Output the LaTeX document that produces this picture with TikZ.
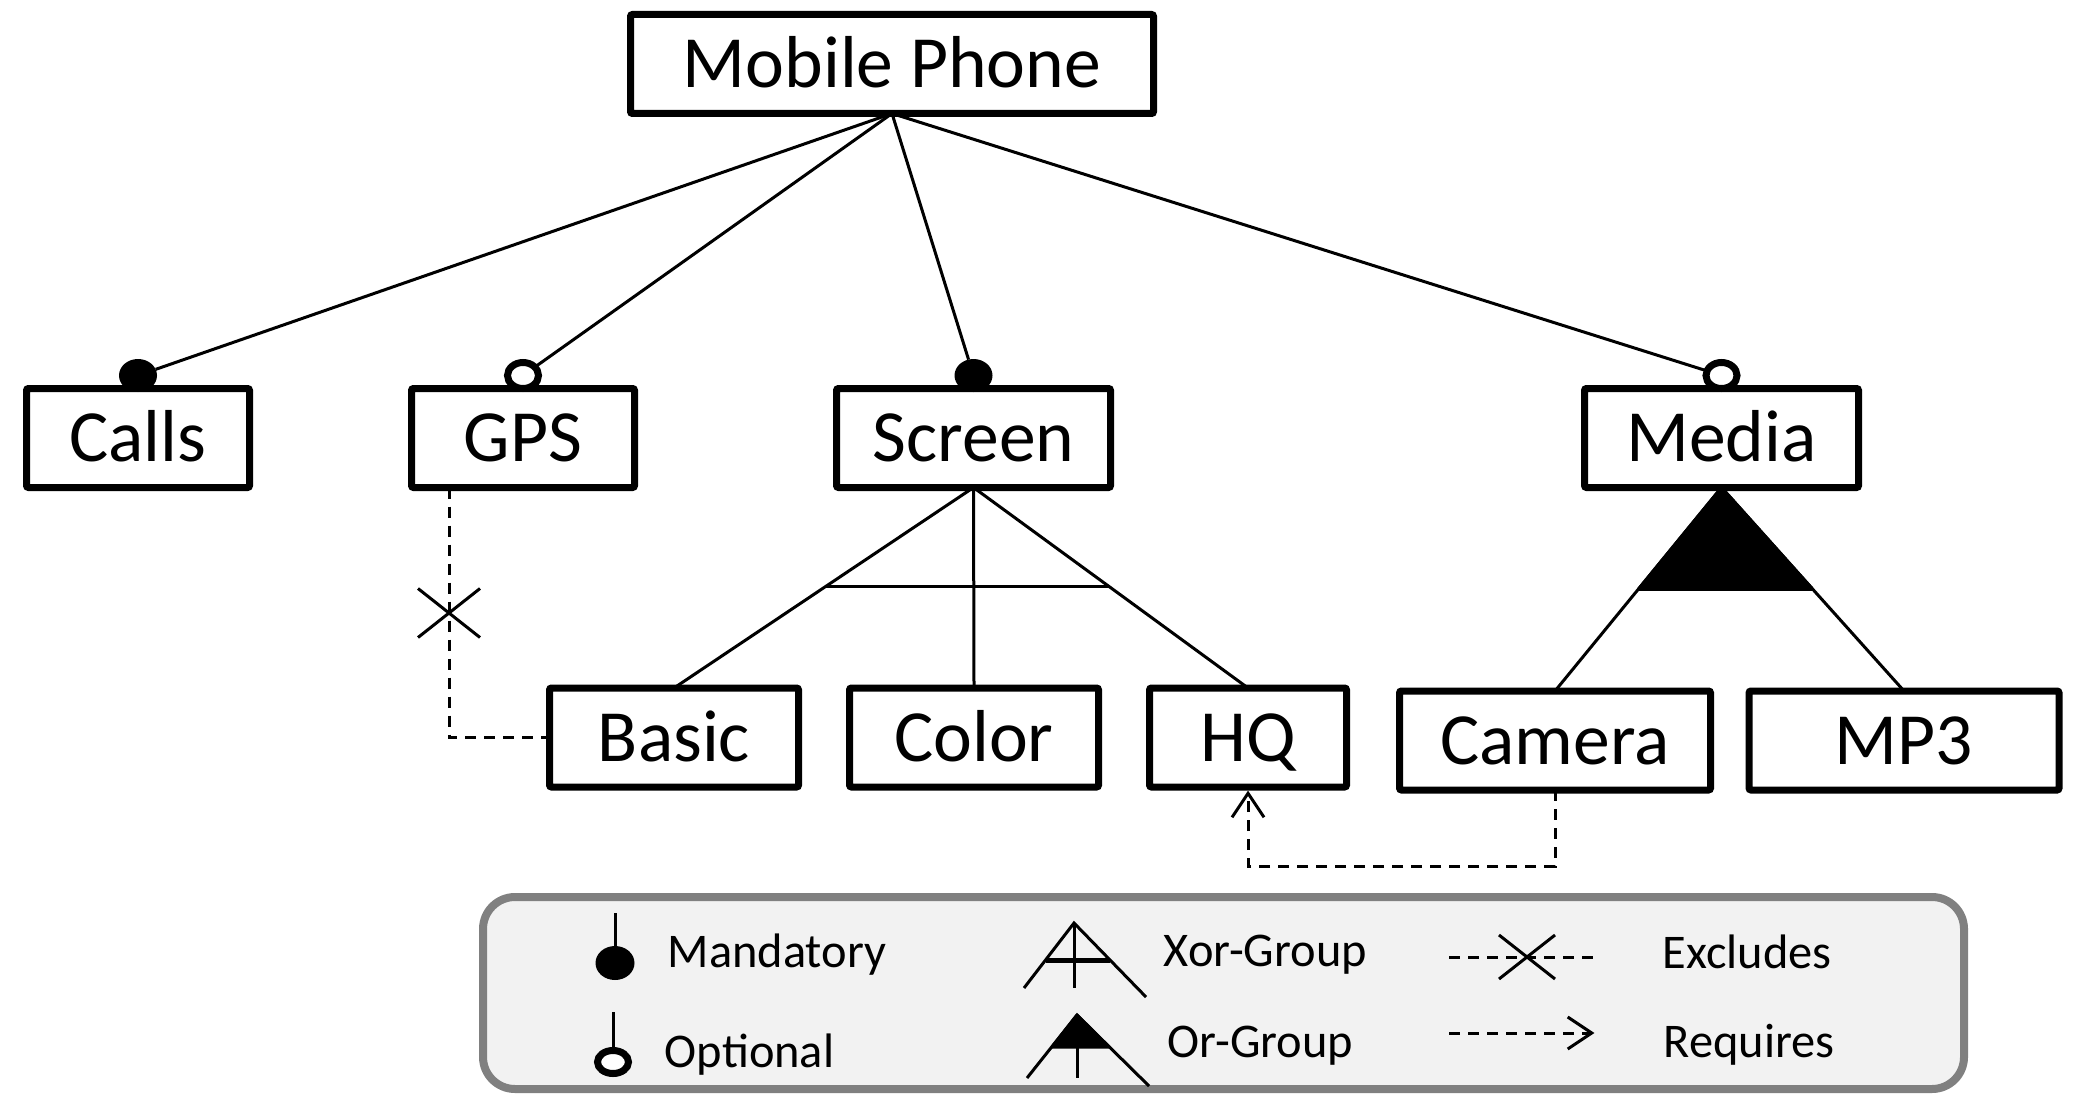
\documentclass[tikz,border=0pt]{standalone}
\usepackage{fontspec}
\setmainfont{Carlito}
\usetikzlibrary{shapes.geometric,shapes.misc,arrows.meta,calc}
\definecolor{legfill}{HTML}{F2F2F2}
\definecolor{legline}{HTML}{808080}
\begin{document}
\begin{tikzpicture}[x=0.25pt,y=-0.25pt,
  feat/.style={draw, line width=1.75pt, rounded corners=0.5pt, inner sep=0pt, outer sep=0pt, minimum height=24.75pt, text height=11.8pt, text depth=0pt, font=\fontsize{18.4}{22}\selectfont},
  mand/.style={ellipse, fill, inner sep=0pt, outer sep=0pt, minimum width=9.5pt, minimum height=8.25pt},
  opt/.style={ellipse, draw, fill=white, line width=1.75pt, inner sep=0pt, outer sep=0pt, minimum width=7.75pt, minimum height=6.5pt},
  edge/.style={line width=0.75pt},
  dep/.style={line width=0.75pt, dash pattern=on 2.75pt off 2pt},
  req/.style={dep, shorten >=0.9pt, -{Straight Barb[length=6pt,width=8pt,line width=0.75pt]}},
  xmark/.style={cross out, draw, line width=0.75pt, inner sep=0pt, outer sep=0pt},
  legtext/.style={anchor=base west, inner sep=0pt, font=\fontsize{12.1}{14}\selectfont}]
\useasboundingbox (0,0) rectangle (2096,1112);
\node[feat, minimum width=130.75pt] (mp) at (892,64) {Mobile Phone};
\node[feat, minimum width=55.75pt] (calls) at (138,438) {Calls};
\node[feat, minimum width=55.75pt] (gps) at (523,438) {GPS};
\node[feat, minimum width=68.5pt] (screen) at (973.5,438) {Screen};
\node[feat, minimum width=68.5pt] (media) at (1721.5,438) {Media};
\node[feat, minimum width=62.25pt] (basic) at (674,737.5) {Basic};
\node[feat, minimum width=62.25pt] (color) at (974,737.5) {Color};
\node[feat, minimum width=49.25pt] (hq) at (1248,737.5) {HQ};
\node[feat, minimum width=77.75pt] (camera) at (1555,740.5) {Camera};
\node[feat, minimum width=77.5pt] (mp3) at (1904,740.5) {MP3};
\node[mand] (callsm) at (138,375.5) {};
\node[opt] (gpso) at (523,375.5) {};
\node[mand] (screenm) at (973.5,375.5) {};
\node[opt] (mediao) at (1721.5,375.5) {};
\draw[edge] (mp.south) -- (callsm);
\draw[edge] (mp.south) -- (gpso);
\draw[edge] (mp.south) -- (screenm);
\draw[edge] (mp.south) -- (mediao);
% xor group
\draw[edge] (screen.south) -- (basic.north);
\draw[edge] (screen.south) -- (color.north);
\draw[edge] (screen.south) -- (hq.north);
\coordinate (xorl) at ($(screen.south)!0.495!(basic.north)$);
\coordinate (xorr) at ($(screen.south)!0.495!(hq.north)$);
\draw[edge] (xorl) -- (xorr);
% or group
\draw[edge] (media.south) -- (camera.north);
\draw[edge] (media.south) -- (mp3.north);
\coordinate (orl) at ($(media.south)!0.5!(camera.north)$);
\coordinate (orr) at ($(media.south)!0.5!(mp3.north)$);
\filldraw[line width=0.75pt, line join=round] (media.south) -- (orl) -- (orr) -- cycle;
% constraints
\coordinate (gpsx) at (449,487.5);
\draw[dep] (gpsx) |- (basic.west);
\node[xmark, minimum width=15.5pt, minimum height=12.25pt] (excl) at (449,613) {};
\draw[req] (camera.south) -- ++(0,76) -| (hq.south);
% legend
\node[draw=legline, fill=legfill, line width=2pt, rounded corners=8pt, minimum width=370.25pt, minimum height=48pt, inner sep=0pt] (legend) at (1223.5,993) {};
\node[mand, minimum width=9.75pt, minimum height=8.5pt] (lmand) at (615,963) {};
\coordinate (lmandtop) at (615,913);
\draw[edge] (lmandtop) -- (lmand);
\node[legtext] (lmandt) at (667,967) {Mandatory};
\node[opt, minimum height=5.75pt] (lopt) at (613,1062) {};
\coordinate (lopttop) at (613,1012);
\draw[edge] (lopttop) -- (lopt);
\node[legtext] (loptt) at (664,1067) {Optional};
\draw[edge] (1024,988) -- (1074,923) -- (1146,997);
\draw[edge] (1074,923) -- (1074,988);
\draw[line width=1.25pt] (1046,960) -- (1110,960);
\node[legtext] (lxort) at (1163,966) {Xor-Group};
\filldraw[line width=0.75pt, line join=round] (1077,1015) -- (1052,1047) -- (1109,1047) -- cycle;
\draw[edge] (1027,1078) -- (1077,1015) -- (1149,1086);
\draw[edge] (1077,1047) -- (1077,1078);
\node[legtext] (lort) at (1167,1057) {Or-Group};
\coordinate (lexa) at (1449,957);
\coordinate (lexb) at (1598,957);
\draw[dep] (lexa) -- (lexb);
\node[xmark, minimum width=14pt, minimum height=11pt] (lexx) at (1527,957) {};
\node[legtext] (lext) at (1662,968) {Excludes};
\coordinate (lreqa) at (1449,1033);
\coordinate (lreqb) at (1598,1033);
\draw[req] (lreqa) -- (lreqb);
\node[legtext] (lreqt) at (1663,1057) {Requires};
\end{tikzpicture}
\end{document}
